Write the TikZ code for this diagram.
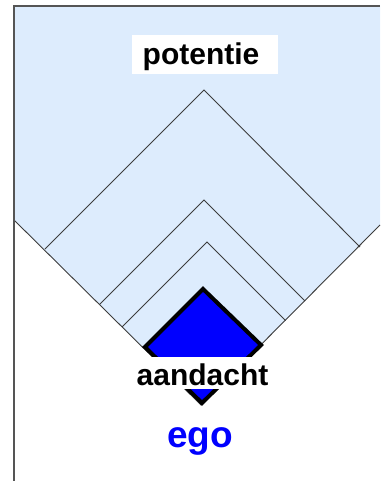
\documentclass[tikz,border=0pt]{standalone}
\usepackage{fontspec}
\setmainfont{Liberation Sans}
\definecolor{paleblue}{RGB}{221,236,253}
\definecolor{framegray}{RGB}{85,85,85}
\definecolor{linegray}{RGB}{60,60,60}
\begin{document}
\begin{tikzpicture}[x=1pt,y=-1pt,
  thinline/.style={draw=linegray, line width=0.9pt},
  frameline/.style={draw=framegray, line width=2pt},
  labeltext/.style={font=\bfseries\fontsize{30}{30}\selectfont, anchor=base, inner sep=0pt},
  egotext/.style={font=\bfseries\fontsize{37}{37}\selectfont, anchor=base, inner sep=0pt, text=blue}]
\useasboundingbox (0,0) rectangle (380,481);
% outline points
\coordinate (TL) at (14,6);
\coordinate (TR) at (380,6);
\coordinate (R) at (380,225);
\coordinate (B) at (201,405);
\coordinate (L) at (14,220);
\coordinate (BL) at (14,481);
% light blue region
\fill[paleblue] (TL) -- (TR) -- (R) -- (B) -- (L) -- cycle;
\draw[thinline] (L) -- (B) -- (R);
% chevrons
\coordinate (c1l) at (45,249);
\coordinate (c1t) at (204,90);
\coordinate (c1r) at (360,247);
\coordinate (c2l) at (99.5,304.5);
\coordinate (c2t) at (204,200);
\coordinate (c2r) at (305,301);
\coordinate (c3l) at (122,327);
\coordinate (c3t) at (207,242);
\coordinate (c3r) at (285.5,320.5);
\draw[thinline] (c1l) -- (c1t) -- (c1r);
\draw[thinline] (c2l) -- (c2t) -- (c2r);
\draw[thinline] (c3l) -- (c3t) -- (c3r);
% ego diamond
\coordinate (dt) at (203,289);
\coordinate (dr) at (261,345);
\coordinate (db) at (202,403);
\coordinate (dl) at (145,347);
\draw[line width=4pt, fill=blue, line join=miter] (dt) -- (dr) -- (db) -- (dl) -- cycle;
% labels
\fill[white] (130,357) rectangle (275,389);
\node[labeltext] (aandacht) at (202.5,385) {aandacht};
\fill[white] (132,35) rectangle (278,74);
\node[labeltext] (potentie) at (201,65) {potentie};
\node[egotext] (ego) at (200,447) {ego};
% frame
\draw[frameline] (BL) -- (TL) -- (TR);
\end{tikzpicture}
\end{document}
